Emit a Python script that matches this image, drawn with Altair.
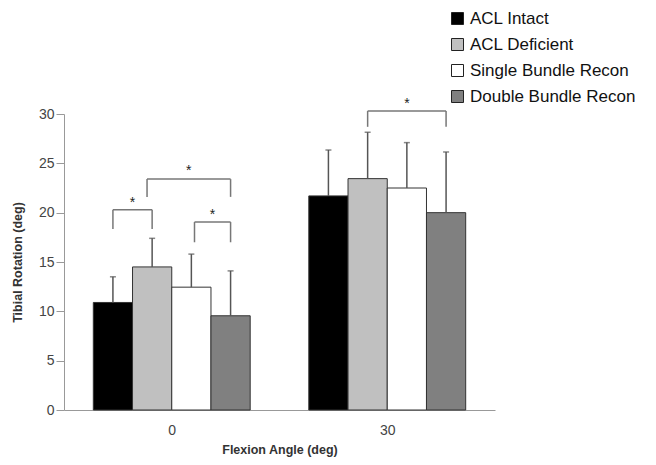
import altair as alt
import pandas as pd

groups = ["0", "30"]
series = ["ACL Intact", "ACL Deficient", "Single Bundle Recon", "Double Bundle Recon"]
colors = ["#000000", "#c0c0c0", "#ffffff", "#808080"]
means_0 = [10.9, 14.5, 12.45, 9.55]
means_30 = [21.7, 23.45, 22.5, 20.0]
sd_0 = [2.6, 2.9, 3.35, 4.55]
sd_30 = [4.65, 4.7, 4.6, 6.15]

# significance brackets: group index, from/to series position, bracket top, leg bottom
br_group = [0, 0, 0, 1]
br_from = [0.0, 0.87, 2.08, 1.0]
br_to = [1.0, 3.0, 3.0, 3.0]
br_top = [20.3, 23.4, 19.05, 30.3]
br_leg = [18.35, 21.6, 17.0, 28.7]
br_star = [21.0, 24.2, 19.8, 31.0]

BW = 0.182  # bar width in group units


def pos(g, s):
    return g + (s - 1.5) * BW


rows = []
for gi, (ms, ss) in enumerate([(means_0, sd_0), (means_30, sd_30)]):
    for si, name in enumerate(series):
        p = pos(gi, si)
        rows.append(dict(group=groups[gi], series=name, order=si, x=p - BW / 2,
                         x2=p + BW / 2, xc=p, mean=ms[si], top=ms[si] + ss[si]))
bars = pd.DataFrame(rows)

hb, legs, stars = [], [], []
for g, a, b, t, l, st in zip(br_group, br_from, br_to, br_top, br_leg, br_star):
    xa, xb = pos(g, a), pos(g, b)
    hb.append(dict(x=xa, x2=xb, y=t))
    legs.append(dict(x=xa, y=l, y2=t))
    legs.append(dict(x=xb, y=l, y2=t))
    stars.append(dict(x=(xa + xb) / 2, y=st, t="*"))
hb = pd.DataFrame(hb)
legs = pd.DataFrame(legs)
stars = pd.DataFrame(stars)

FONT = "Liberation Sans"
xscale = alt.Scale(domain=[-0.5, 1.5], nice=False, zero=False)
yscale = alt.Scale(domain=[0, 30], nice=False)

xaxis = alt.Axis(values=[0, 1], labelExpr="datum.value == 0 ? '0' : '30'",
                 title="Flexion Angle (deg)", tickSize=0, labelPadding=13,
                 domainColor="#999999", labelColor="#444444", labelFontSize=14,
                 labelFont=FONT, titleFont=FONT, titleFontSize=12.5,
                 titleFontWeight="bold", titleColor="#333333", titleY=33, grid=False)
yaxis = alt.Axis(values=[0, 5, 10, 15, 20, 25, 30], title="Tibial Rotation (deg)",
                 tickSize=8, tickColor="#999999", domainColor="#999999",
                 labelColor="#444444", labelFontSize=14, labelFont=FONT, labelPadding=2,
                 titleFont=FONT, titleFontSize=12.5, titleFontWeight="bold",
                 titleColor="#333333", titleX=-40, grid=False)

bar = alt.Chart(bars).mark_bar(stroke="#333333", strokeWidth=1).encode(
    x=alt.X("x:Q", scale=xscale, axis=xaxis),
    x2="x2",
    y=alt.Y("mean:Q", scale=yscale, axis=yaxis),
    y2=alt.datum(0),
    color=alt.Color("series:N", scale=alt.Scale(domain=series, range=colors),
                    sort=series,
                    legend=alt.Legend(title=None, orient="none", legendX=385, legendY=-104,
                                      symbolType="square", symbolSize=144,
                                      symbolStrokeColor="#222222", symbolStrokeWidth=1,
                                      labelFontSize=17, labelFont=FONT, labelColor="#111111",
                                      labelOffset=4, rowPadding=8, padding=0, labelLimit=400)),
)

err = alt.Chart(bars).mark_rule(color="#555555", strokeWidth=1.5).encode(
    x="xc:Q", y="mean:Q", y2="top")
cap = alt.Chart(bars).mark_tick(color="#555555", thickness=1.5, size=6,
                                orient="horizontal").encode(x="xc:Q", y="top:Q")

hline = alt.Chart(hb).mark_rule(color="#777777", strokeWidth=1.5).encode(
    x="x:Q", x2="x2", y="y:Q")
vline = alt.Chart(legs).mark_rule(color="#777777", strokeWidth=1.5).encode(
    x="x:Q", y="y:Q", y2="y2")
star = alt.Chart(stars).mark_text(fontSize=14, font=FONT, color="#222222",
                                  baseline="middle").encode(
    x="x:Q", y="y:Q", text="t:N")

chart = alt.layer(bar, err, cap, hline, vline, star).properties(
    width=431, height=296,
    autosize=alt.AutoSizeParams(type="none"),
    padding={"left": 56, "top": 106, "right": 153, "bottom": 47},
).configure_view(stroke=None)

chart.save("out.html", embed_options={"renderer": "svg", "actions": False})
